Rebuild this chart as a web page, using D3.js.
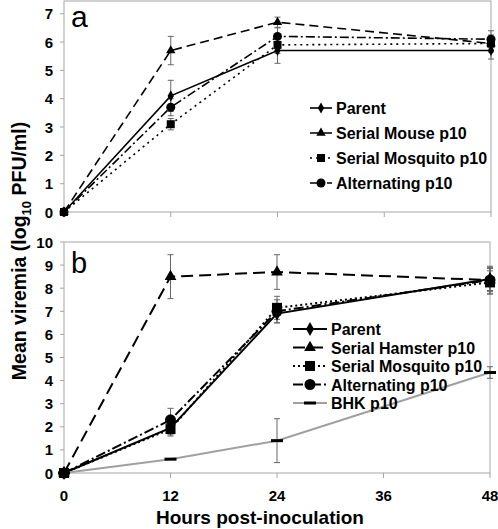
<!DOCTYPE html>
<html><head><meta charset="utf-8">
<script src="https://cdn.jsdelivr.net/npm/d3@7"></script>
<style>
body{margin:0;background:#fff;}
svg text{font-family:"Liberation Sans",Arial,sans-serif;}
</style></head>
<body><svg id="c" width="498" height="529"></svg>
<script>
const hours = [0, 12, 24, 48];
const xTicks = [0, 12, 24, 36, 48];
const yTicksA = [0,1,2,3,4,5,6,7];
const yTicksB = [0,1,2,3,4,5,6,7,8,9,10];

// Panel a
const namesA = ["Parent", "Serial Mouse p10", "Serial Mosquito p10", "Alternating p10"];
const parentA    = [0, 4.1, 5.7, 5.7];
const mouseA     = [0, 5.7, 6.7, 5.95];
const mosquitoA  = [0, 3.1, 5.9, 5.95];
const alternA    = [0, 3.7, 6.2, 6.1];
const parentAErr   = [0, 0.55, 0.45, 0.3];
const mouseAErr    = [0, 0.5, 0.18, 0.3];
const mosquitoAErr = [0, 0.2, 0.3, 0.25];
const alternAErr   = [0, 0.3, 0.3, 0.3];

// Panel b
const namesB = ["Parent", "Serial Hamster p10", "Serial Mosquito p10", "Alternating p10", "BHK p10"];
const parentB    = [0, 1.95, 6.9, 8.4];
const hamsterB   = [0, 8.5, 8.7, 8.35];
const mosquitoB  = [0, 1.9, 7.15, 8.25];
const alternB    = [0, 2.3, 7.0, 8.35];
const bhkB       = [0, 0.6, 1.4, 4.35];
const parentBErr   = [0, 0.3, 0.4, 0.5];
const hamsterBErr  = [0, 0.95, 0.75, 0.5];
const mosquitoBErr = [0, 0.3, 0.5, 0.5];
const alternBErr   = [0, 0.5, 0.5, 0.6];
const bhkBErr      = [0, 0, 0.95, 0.25];

const svg = d3.select("#c");
const frameCol = "#a6a6a6";
const errCol = "#666";

function panel(cfg){
  const g = svg.append("g");
  const x = d3.scaleLinear().domain([0,48]).range([cfg.left, cfg.right]);
  const y = d3.scaleLinear().domain([0, cfg.ymax]).range([cfg.bottom, cfg.top]);
  g.append("rect").attr("x", cfg.left).attr("y", cfg.top)
    .attr("width", cfg.right-cfg.left).attr("height", cfg.bottom-cfg.top)
    .attr("fill","none").attr("stroke",frameCol).attr("stroke-width",1);
  g.selectAll(".xt").data(xTicks).enter().append("line")
    .attr("x1",d=>x(d)).attr("x2",d=>x(d)).attr("y1",cfg.bottom).attr("y2",cfg.bottom+5)
    .attr("stroke",frameCol);
  g.selectAll(".yt").data(cfg.yticks).enter().append("line")
    .attr("x1",cfg.left-4).attr("x2",cfg.left).attr("y1",d=>y(d)).attr("y2",d=>y(d))
    .attr("stroke",frameCol);
  g.selectAll(".yl").data(cfg.yticks).enter().append("text")
    .attr("x",cfg.left-11).attr("y",d=>y(d)+5.5).attr("text-anchor","end")
    .attr("font-size",15).attr("font-weight","bold").text(d=>d);
  if (cfg.xlabels){
    g.selectAll(".xl").data(xTicks).enter().append("text")
      .attr("x",d=>x(d)).attr("y",cfg.bottom+28).attr("text-anchor","middle")
      .attr("font-size",15).attr("font-weight","bold").text(d=>d);
  }
  g.append("text").attr("x",cfg.left+7).attr("y",cfg.letterY)
    .attr("font-size",cfg.letterSize).text(cfg.letter);

  cfg.series.forEach(s=>{
    s.vals.forEach((v,i)=>{
      const e = s.err[i]; if(!e) return;
      const xx = x(hours[i]);
      g.append("line").attr("x1",xx).attr("x2",xx).attr("y1",y(v-e)).attr("y2",y(v+e))
        .attr("stroke",errCol).attr("stroke-width",1);
      [v-e, v+e].forEach(t=>g.append("line").attr("x1",xx-3).attr("x2",xx+3)
        .attr("y1",y(t)).attr("y2",y(t)).attr("stroke",errCol).attr("stroke-width",1));
    });
  });
  const line = d3.line().x((d,i)=>x(hours[i])).y(d=>y(d));
  cfg.series.forEach(s=>{
    g.append("path").datum(s.vals).attr("d",line).attr("fill","none")
      .attr("stroke",s.color).attr("stroke-width",s.width)
      .attr("stroke-dasharray",s.dash||null);
  });
  cfg.series.forEach(s=>{
    s.vals.forEach((v,i)=>drawMarker(g, s.marker, x(hours[i]), y(v), s.color, cfg.msize));
  });
  cfg.series.forEach((s,i)=>{
    const ly = cfg.legY + i*cfg.legStep;
    g.append("line").attr("x1",cfg.legX).attr("x2",cfg.legX+cfg.legLen).attr("y1",ly).attr("y2",ly)
      .attr("stroke",s.color).attr("stroke-width",s.width).attr("stroke-dasharray",s.dash||null);
    drawMarker(g, s.marker, cfg.legX+cfg.legLen/2, ly, s.color, cfg.msize);
    g.append("text").attr("x",cfg.legX+cfg.legLen+4).attr("y",ly+6)
      .attr("font-size",cfg.legFont).attr("font-weight","bold").text(s.name);
  });
}

function drawMarker(g, type, cx, cy, color, sz){
  if (type==="diamond"){
    g.append("path").attr("d",d3.symbol(d3.symbolDiamond, sz*sz*0.55)()).attr("transform",`translate(${cx},${cy})`).attr("fill",color);
  } else if (type==="triangle"){
    g.append("path").attr("d",d3.symbol(d3.symbolTriangle, sz*sz*0.6)()).attr("transform",`translate(${cx},${cy})`).attr("fill",color);
  } else if (type==="square"){
    g.append("rect").attr("x",cx-sz/2).attr("y",cy-sz/2).attr("width",sz).attr("height",sz).attr("fill",color);
  } else if (type==="circle"){
    g.append("circle").attr("cx",cx).attr("cy",cy).attr("r",sz/2+0.5).attr("fill",color);
  } else if (type==="dash"){
    g.append("rect").attr("x",cx-6).attr("y",cy-1.5).attr("width",12).attr("height",3).attr("fill","#000");
  }
}

panel({left:64, right:491, top:1, bottom:212, ymax:7.45, yticks:yTicksA, xlabels:false,
  letter:"a", letterY:27, letterSize:30, msize:8,
  legX:310, legLen:22, legY:108, legStep:25, legFont:16,
  series:[
    {name:namesA[0], vals:parentA, err:parentAErr, marker:"diamond", color:"#000", width:1.6},
    {name:namesA[1], vals:mouseA, err:mouseAErr, marker:"triangle", color:"#000", width:1.6, dash:"9,5"},
    {name:namesA[2], vals:mosquitoA, err:mosquitoAErr, marker:"square", color:"#000", width:1.6, dash:"2,4"},
    {name:namesA[3], vals:alternA, err:alternAErr, marker:"circle", color:"#000", width:1.6, dash:"9,3,2,3"}
  ]});

panel({left:64, right:490, top:242, bottom:473, ymax:10, yticks:yTicksB, xlabels:true,
  letter:"b", letterY:273, letterSize:29, msize:10,
  legX:293, legLen:34, legY:329, legStep:18.5, legFont:16,
  series:[
    {name:namesB[0], vals:parentB, err:parentBErr, marker:"diamond", color:"#000", width:2},
    {name:namesB[1], vals:hamsterB, err:hamsterBErr, marker:"triangle", color:"#000", width:2, dash:"12,6"},
    {name:namesB[2], vals:mosquitoB, err:mosquitoBErr, marker:"square", color:"#000", width:2, dash:"2,3"},
    {name:namesB[3], vals:alternB, err:alternBErr, marker:"circle", color:"#000", width:2, dash:"10,3,2,3"},
    {name:namesB[4], vals:bhkB, err:bhkBErr, marker:"dash", color:"#a0a0a0", width:2}
  ]});

svg.append("text").attr("x",260).attr("y",524).attr("text-anchor","middle")
  .attr("font-size",19).attr("font-weight","bold").text("Hours post-inoculation");
const yt = svg.append("text").attr("transform","translate(26,251) rotate(-90)")
  .attr("text-anchor","middle").attr("font-size",19.5).attr("font-weight","bold");
yt.append("tspan").text("Mean viremia (log");
yt.append("tspan").attr("font-size",13).attr("dy",5).text("10");
yt.append("tspan").attr("dy",-5).text(" PFU/ml)");
</script></body></html>
